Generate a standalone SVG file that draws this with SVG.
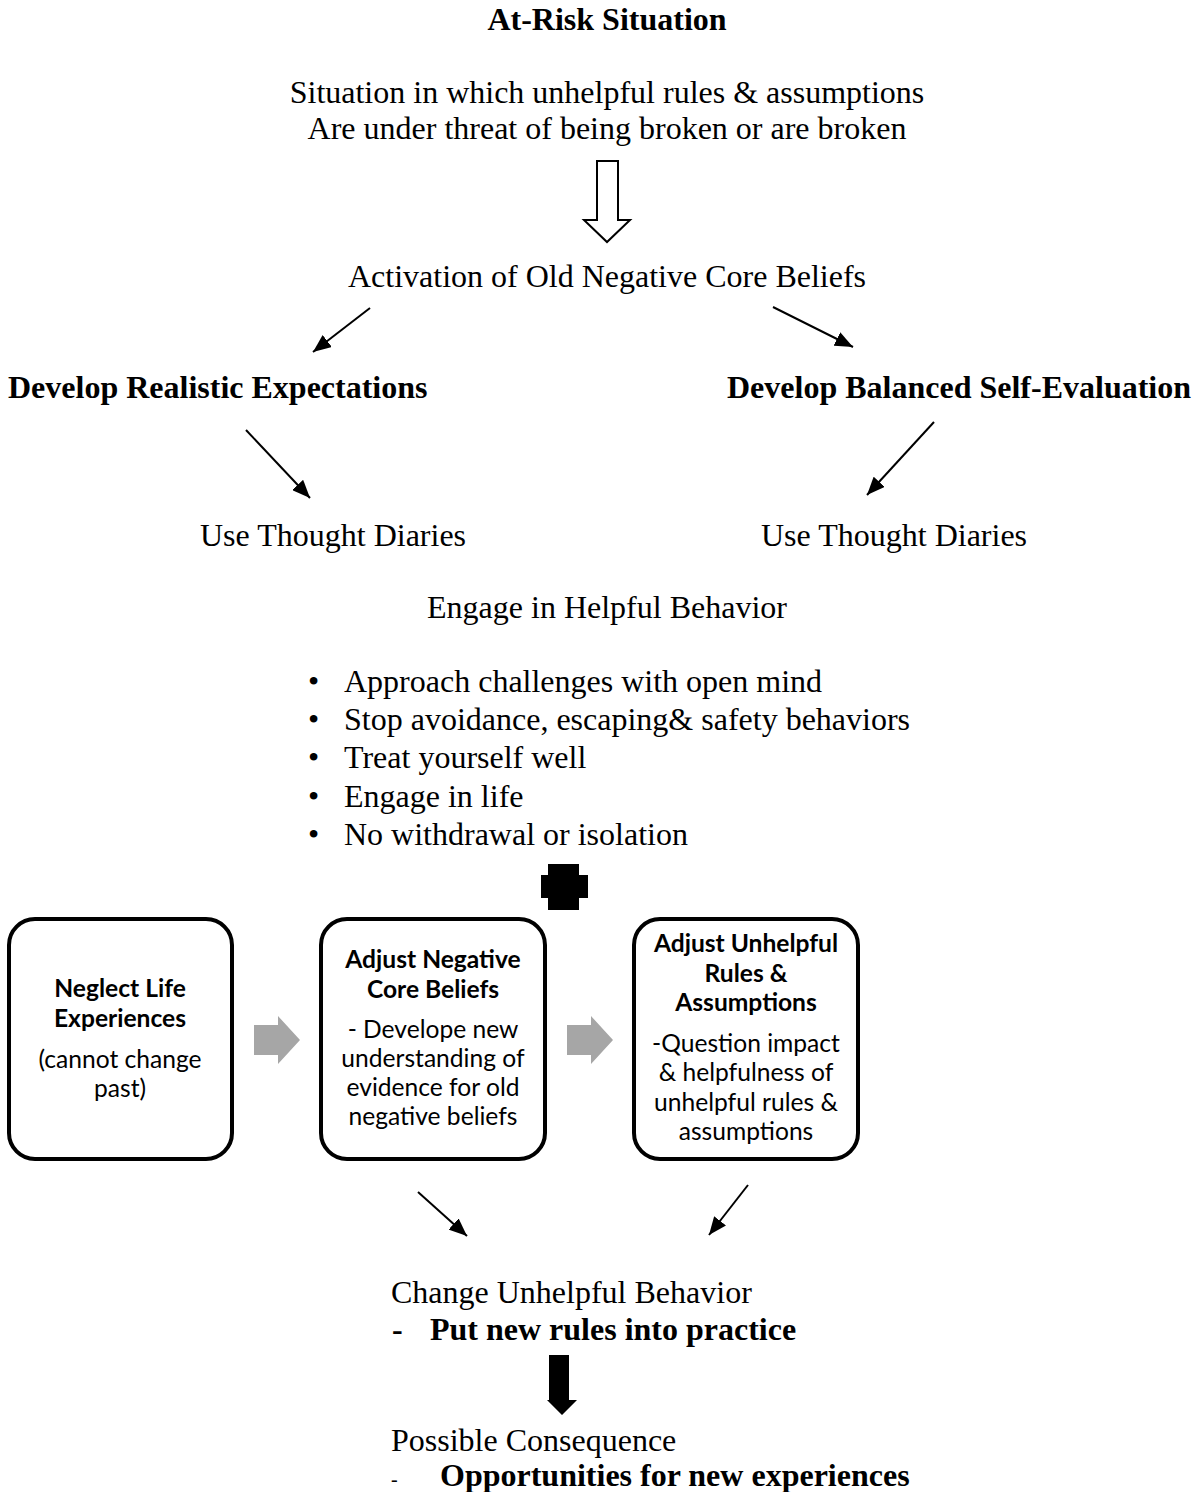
<svg xmlns="http://www.w3.org/2000/svg" width="1202" height="1492" viewBox="0 0 1202 1492">
<style>
.t{font-family:"Liberation Serif","Times New Roman",serif;font-size:32px;fill:#000}
.b{font-weight:bold}
.m{text-anchor:middle}
.bx{fill:#fff;stroke:#000;stroke-width:4}
.c{font-family:Lato,"Open Sans",sans-serif;font-size:24.6px;fill:#000;text-anchor:middle}
.ln{stroke:#000;stroke-width:2;fill:none}
.ga{fill:#a6a6a6}
</style>
<defs>
<marker id="ah" markerUnits="userSpaceOnUse" markerWidth="19" markerHeight="15" refX="18" refY="7.5" orient="auto">
<path d="M0,0 L18,7.5 L0,15 Z" fill="#000"/>
</marker>
</defs>
<rect width="1202" height="1492" fill="#fff"/>

<g id="title"><text class="t b m" x="607" y="30">At-Risk Situation</text></g>
<g id="situation">
<text class="t m" x="607" y="103">Situation in which unhelpful rules &amp; assumptions</text>
<text class="t m" x="607" y="139">Are under threat of being broken or are broken</text>
</g>
<g id="activation"><text class="t m" x="607" y="287">Activation of Old Negative Core Beliefs</text></g>
<g id="realistic"><text class="t b" x="8" y="398">Develop Realistic Expectations</text></g>
<g id="balanced"><text class="t b" x="727" y="398">Develop Balanced Self-Evaluation</text></g>
<g id="diaries1"><text class="t" x="200" y="546">Use Thought Diaries</text></g>
<g id="diaries2"><text class="t" x="761" y="546">Use Thought Diaries</text></g>
<g id="engage">
<text class="t m" x="607" y="618">Engage in Helpful Behavior</text>
<text class="t" x="308" y="692">•</text><text class="t" x="344" y="692">Approach challenges with open mind</text>
<text class="t" x="308" y="730">•</text><text class="t" x="344" y="730">Stop avoidance, escaping&amp; safety behaviors</text>
<text class="t" x="308" y="768">•</text><text class="t" x="344" y="768">Treat yourself well</text>
<text class="t" x="308" y="807">•</text><text class="t" x="344" y="807">Engage in life</text>
<text class="t" x="308" y="845">•</text><text class="t" x="344" y="845">No withdrawal or isolation</text>
</g>
<g id="plus"><path d="M548,864 H579 V875 H588 V898 H579 V910 H548 V898 H541 V875 H548 Z" fill="#000"/></g>

<g id="box1">
<rect class="bx" x="9" y="919" width="223" height="240" rx="26"/>
<text class="c b" x="120" y="997">Neglect Life</text>
<text class="c b" x="120" y="1027">Experiences</text>
<text class="c" x="120" y="1068">(cannot change</text>
<text class="c" x="120" y="1097">past)</text>
</g>
<g id="box2">
<rect class="bx" x="321" y="919" width="224" height="240" rx="26"/>
<text class="c b" x="433" y="968">Adjust Negative</text>
<text class="c b" x="433" y="998">Core Beliefs</text>
<text class="c" x="433" y="1038">- Develope new</text>
<text class="c" x="433" y="1067">understanding of</text>
<text class="c" x="433" y="1096">evidence for old</text>
<text class="c" x="433" y="1125">negative beliefs</text>
</g>
<g id="box3">
<rect class="bx" x="634" y="919" width="224" height="240" rx="26"/>
<text class="c b" x="746" y="952">Adjust Unhelpful</text>
<text class="c b" x="746" y="982">Rules &amp;</text>
<text class="c b" x="746" y="1011">Assumptions</text>
<text class="c" x="746" y="1052">-Question impact</text>
<text class="c" x="746" y="1081">&amp; helpfulness of</text>
<text class="c" x="746" y="1111">unhelpful rules &amp;</text>
<text class="c" x="746" y="1140">assumptions</text>
</g>
<g id="change">
<text class="t" x="391" y="1303">Change Unhelpful Behavior</text>
<text class="t b" x="392" y="1340">-</text>
<text class="t b" x="430" y="1340">Put new rules into practice</text>
</g>
<g id="consequence">
<text class="t" x="391" y="1451">Possible Consequence</text>
<text class="t" x="391" y="1486" style="font-size:20px">-</text>
<text class="t b" x="440" y="1486">Opportunities for new experiences</text>
</g>

<g id="connectors">
<path d="M597,161 H618 V220 H630 L607,242 L584,220 H597 Z" fill="#fff" stroke="#000" stroke-width="2"/>
<line class="ln" x1="370" y1="308" x2="313" y2="352" marker-end="url(#ah)"/>
<line class="ln" x1="773" y1="307" x2="853" y2="347" marker-end="url(#ah)"/>
<line class="ln" x1="246" y1="430" x2="310" y2="498" marker-end="url(#ah)"/>
<line class="ln" x1="934" y1="422" x2="867" y2="495" marker-end="url(#ah)"/>
<path class="ga" d="M254,1025 H278 V1016 L300,1040 L278,1064 V1055 H254 Z"/>
<path class="ga" d="M567,1025 H591 V1016 L613,1040 L591,1064 V1055 H567 Z"/>
<line class="ln" x1="418" y1="1192" x2="467" y2="1236" marker-end="url(#ah)"/>
<line class="ln" x1="748" y1="1185" x2="709" y2="1235" marker-end="url(#ah)"/>
<path d="M549,1355 H569 V1400 H577 L562,1415 L547,1400 H549 Z" fill="#000"/>
</g>
</svg>
